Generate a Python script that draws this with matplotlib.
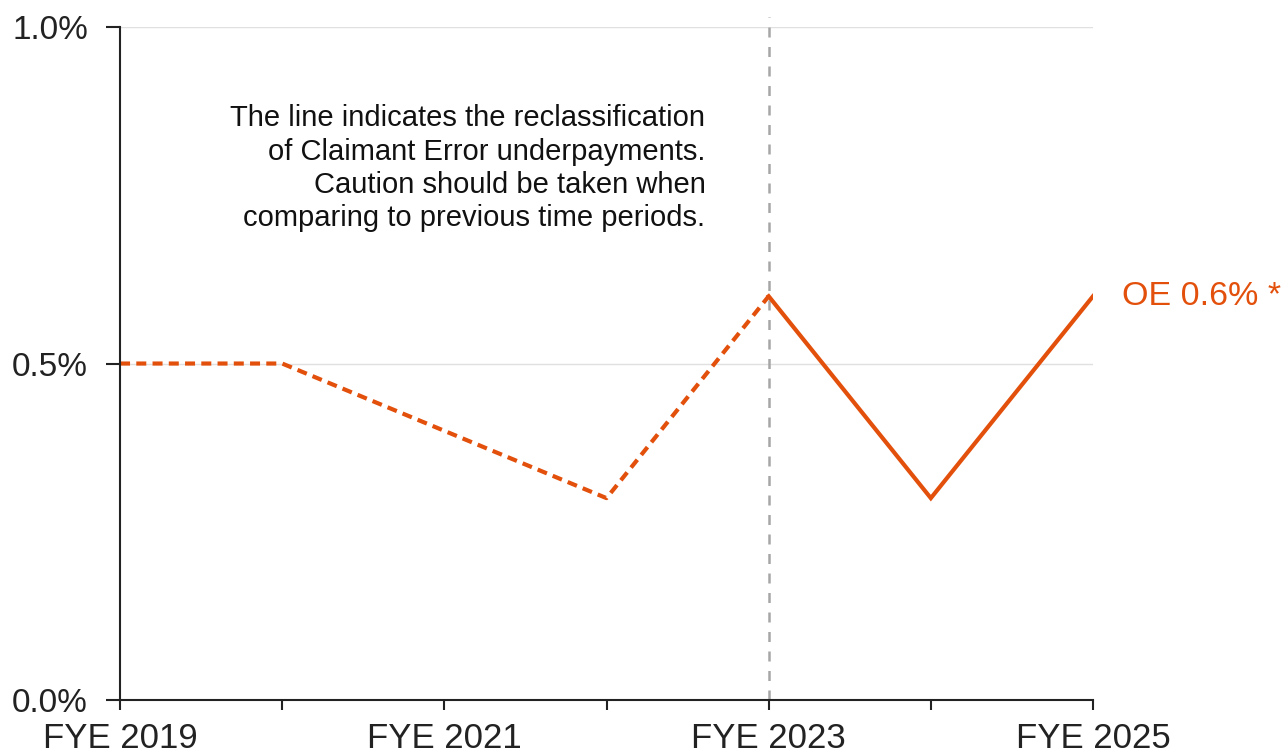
import matplotlib.pyplot as plt

plt.rcParams['font.family'] = ['Liberation Sans', 'DejaVu Sans']

years = [2019, 2020, 2021, 2022, 2023, 2024, 2025]
oe_rate = [0.5, 0.5, 0.4, 0.3, 0.6, 0.3, 0.6]
tick_years = [2019, 2021, 2023, 2025]
y_ticks = [0.0, 0.5, 1.0]
break_year = 2023
orange = "#E2500C"

fig = plt.figure(figsize=(12.88, 7.55), dpi=100)
ax = fig.add_axes([0.0932, 0.0728, 0.7554, 0.8914])

# dashed before reclassification, solid after
i = years.index(break_year)
ax.plot(years[:i + 1], oe_rate[:i + 1], color=orange, lw=3, linestyle=(0, (2.4, 1.5)),
        dash_capstyle='butt')
ax.plot(years[i:], oe_rate[i:], color=orange, lw=3, solid_joinstyle='miter')

for y in [0.5, 1.0]:
    ax.axhline(y, color="#e0e0e0", lw=1, zorder=0)

ax.axvline(break_year, ymin=0, ymax=1.015, color="#a6a6a6", lw=1.8,
           linestyle=(0, (4, 3.8)), clip_on=False, zorder=1)

ax.text(2022.61, 0.885, "The line indicates the reclassification\n"
        "of Claimant Error underpayments.\n"
        "Caution should be taken when\n"
        "comparing to previous time periods.",
        ha='right', va='top', fontsize=21, linespacing=1.24, color="#111111")

ax.text(years[-1] + 0.18, oe_rate[-1], "OE 0.6% *", color=orange, fontsize=24.5,
        ha='left', va='center')

ax.set_xlim(2019, 2025)
ax.set_ylim(0, 1.0)
ax.set_xticks(years)
ax.set_xticklabels([f"FYE {y}" if y in tick_years else "" for y in years])
ax.set_yticks(y_ticks)
ax.set_yticklabels([f"{v:.1f}%" for v in y_ticks])

for s in ['top', 'right']:
    ax.spines[s].set_visible(False)
for s in ['left', 'bottom']:
    ax.spines[s].set_linewidth(1.5)
    ax.spines[s].set_color("#222222")

ax.tick_params(axis='x', length=7, width=1.5, labelsize=25, pad=9, colors="#222222")
ax.tick_params(axis='y', length=10, width=1.5, labelsize=24, pad=13, colors="#222222")

fig.savefig("out.png", dpi=100)
